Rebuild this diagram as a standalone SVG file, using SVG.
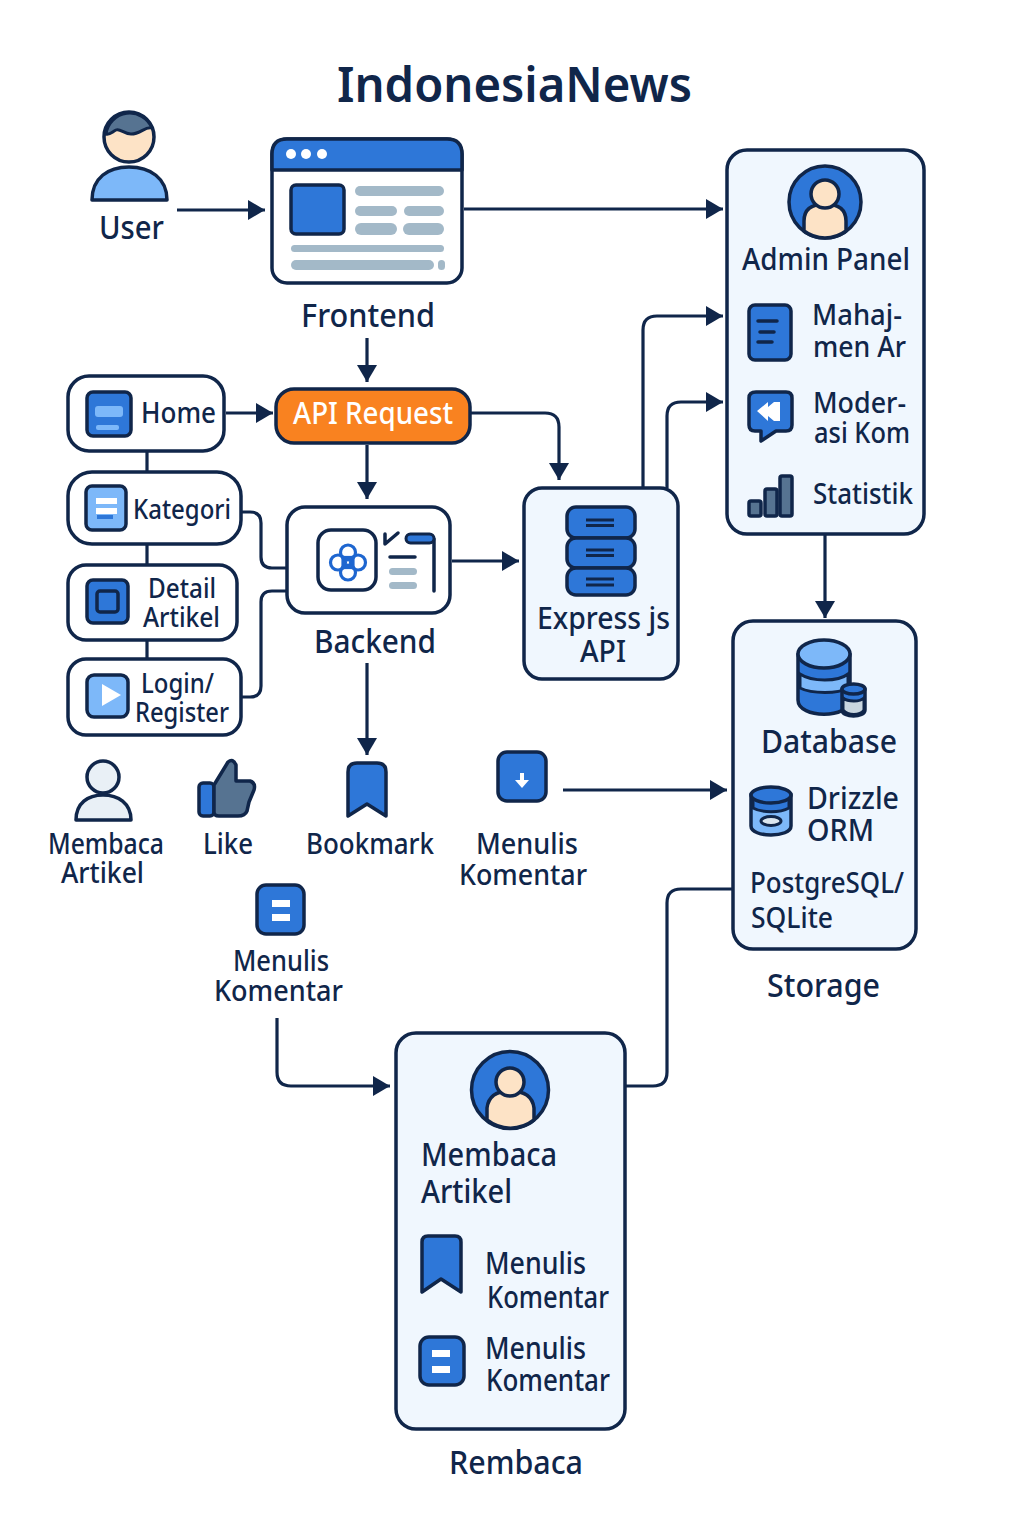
<svg xmlns="http://www.w3.org/2000/svg" width="1024" height="1536" viewBox="0 0 1024 1536">
<defs>
<style>
text{font-family:"Noto Sans","Open Sans","Liberation Sans",sans-serif;fill:#10264a;font-weight:500;font-size:30px}
.s{stroke:#10264a;stroke-width:3.5;stroke-linejoin:round;stroke-linecap:round}
.box{fill:#fff;stroke:#10264a;stroke-width:3.5}
.panel{fill:#f0f7fe;stroke:#10264a;stroke-width:3.5}
.b{fill:#2e77d8}.l{fill:#7db8f9}.k{fill:#fde3c6}.g{fill:#a3b9c8}.sl{fill:#567391}
.c{fill:none;stroke:#10264a;stroke-width:3.2}
.w{fill:#fff}
</style>
<marker id="ah" markerUnits="userSpaceOnUse" markerWidth="18" markerHeight="22" refX="17" refY="11" orient="auto"><path d="M0 1L17 11L0 21Z" fill="#10264a"/></marker>
</defs>
<rect width="1024" height="1536" fill="#fff"/>
<g id="title"><text x="337" y="102" style="font-size:48px;font-weight:600" textLength="355" lengthAdjust="spacingAndGlyphs">IndonesiaNews</text></g>

<g id="connectors">
<path class="c" marker-end="url(#ah)" d="M177 210H265"/>
<path class="c" marker-end="url(#ah)" d="M464 209H723"/>
<path class="c" marker-end="url(#ah)" d="M367 338V382"/>
<path class="c" marker-end="url(#ah)" d="M226 413H273"/>
<path class="c" marker-end="url(#ah)" d="M367 445V499"/>
<path class="c" marker-end="url(#ah)" d="M471 413H545Q559 413 559 427V480"/>
<path class="c" marker-end="url(#ah)" d="M452 561H519"/>
<path class="c" marker-end="url(#ah)" d="M367 663V755"/>
<path class="c" marker-end="url(#ah)" d="M643 488V330Q643 316 657 316H723"/>
<path class="c" marker-end="url(#ah)" d="M667 488V416Q667 402 681 402H723"/>
<path class="c" marker-end="url(#ah)" d="M825 535V618"/>
<path class="c" marker-end="url(#ah)" d="M563 790H727"/>
<path class="c" d="M733 889H681Q667 889 667 903V1072Q667 1086 653 1086H626"/>
<path class="c" marker-end="url(#ah)" d="M277 1018V1072Q277 1086 291 1086H390"/>
<path class="c" d="M147 451V472M147 545V565M147 640V659"/>
<path class="c" d="M242 512H250Q261 512 261 523V557Q261 568 272 568H287"/>
<path class="c" d="M242 697H250Q261 697 261 686V602Q261 591 272 591H287"/>
</g>

<g id="user">
<path class="l s" d="M92 200C92 178 108 167 129 167C150 167 167 178 167 200Z"/>
<circle class="k s" cx="129" cy="137" r="25"/>
<path class="sl" d="M106 134A24 24 0 0 1 152 128C145 126 141 134 131 134C124 134 120 128 116 130C112 132 110 135 106 134Z" stroke="#10264a" stroke-width="3" stroke-linejoin="round"/>
<text x="99" y="239" style="font-size:32px" textLength="65" lengthAdjust="spacingAndGlyphs">User</text>
</g>

<g id="frontend">
<rect class="box" x="272" y="139" width="190" height="144" rx="15"/>
<path class="b s" d="M272 170V154Q272 139 287 139H447Q462 139 462 154V170Z"/>
<circle class="w" cx="291" cy="154" r="5"/><circle class="w" cx="306" cy="154" r="5"/><circle class="w" cx="322" cy="154" r="5"/>
<rect class="b s" x="291" y="185" width="53" height="49" rx="5"/>
<rect class="g" x="355" y="186" width="89" height="10" rx="5"/>
<rect class="g" x="355" y="206" width="42" height="10" rx="5"/>
<rect class="g" x="404" y="206" width="40" height="10" rx="5"/>
<rect class="g" x="355" y="223" width="42" height="12" rx="6"/>
<rect class="g" x="403" y="223" width="41" height="12" rx="6"/>
<rect class="g" x="291" y="245" width="153" height="7" rx="3.500"/>
<rect class="g" x="291" y="260" width="143" height="10" rx="5"/>
<rect class="g" x="438" y="260" width="7" height="10" rx="3.500"/>
<text x="301" y="327" style="font-size:32px" textLength="134" lengthAdjust="spacingAndGlyphs">Frontend</text>
</g>

<g id="home">
<rect class="box" x="68" y="376" width="156" height="75" rx="21"/>
<rect class="b s" x="87" y="392" width="44" height="44" rx="6"/>
<rect class="l" x="95" y="406" width="28" height="11" rx="3"/>
<rect class="l" x="96" y="425" width="23" height="5" rx="2"/>
<text x="141" y="423" style="font-size:28px" textLength="75" lengthAdjust="spacingAndGlyphs">Home</text>
</g>

<g id="api-request">
<rect x="276" y="389" width="194" height="54" rx="18" fill="#f98220" stroke="#10264a" stroke-width="3.500"/>
<text x="293" y="424" style="font-size:30px;fill:#fff" textLength="160" lengthAdjust="spacingAndGlyphs">API Request</text>
</g>

<g id="kategori">
<rect class="box" x="68" y="472" width="173" height="72" rx="24"/>
<rect class="l s" x="86" y="486" width="40" height="44" rx="6"/>
<rect class="w" x="96" y="498" width="21" height="6"/><rect class="w" x="96" y="508" width="21" height="6"/>
<rect class="b" x="97" y="515" width="16" height="4"/>
<text x="133" y="519" style="font-size:27px" textLength="98" lengthAdjust="spacingAndGlyphs">Kategori</text>
</g>

<g id="detail-artikel">
<rect class="box" x="68" y="565" width="169" height="75" rx="18"/>
<rect class="b s" x="87" y="580" width="41" height="43" rx="6"/>
<rect class="b" x="97" y="591" width="21" height="21" rx="3" stroke="#10264a" stroke-width="3.500"/>
<text x="148" y="598" style="font-size:27px" textLength="68" lengthAdjust="spacingAndGlyphs">Detail</text>
<text x="143" y="627" style="font-size:27px" textLength="77" lengthAdjust="spacingAndGlyphs">Artikel</text>
</g>

<g id="login-register">
<rect class="box" x="68" y="659" width="173" height="76" rx="18"/>
<rect class="l s" x="87" y="675" width="41" height="42" rx="7"/>
<path class="w" d="M102 684L121 695L102 706Z"/>
<text x="141" y="693" style="font-size:27px" textLength="73" lengthAdjust="spacingAndGlyphs">Login/</text>
<text x="135" y="722" style="font-size:27px" textLength="94" lengthAdjust="spacingAndGlyphs">Register</text>
</g>

<g id="backend">
<rect class="box" x="287" y="507" width="163" height="106" rx="18"/>
<rect class="box" x="318" y="530" width="58" height="60" rx="13"/>
<g fill="none" stroke="#1e66d0" stroke-width="3.200">
<circle cx="338" cy="562.500" r="7.500"/><circle cx="358" cy="562.500" r="7.500"/>
<circle cx="348" cy="552.500" r="7.500"/><circle cx="348" cy="572.500" r="7.500"/>
<rect x="343" y="557.500" width="10" height="10"/>
</g>
<path class="s" fill="none" d="M385 534V544L398 533M390 557H415M434 539V591"/>
<rect class="b" x="406" y="534" width="28" height="9" rx="4.500" stroke="#10264a" stroke-width="3"/>
<rect class="g" x="389" y="568" width="28" height="7" rx="3.500"/>
<rect class="g" x="389" y="582" width="28" height="7" rx="3.500"/>
<text x="314" y="653" style="font-size:32px" textLength="122" lengthAdjust="spacingAndGlyphs">Backend</text>
</g>

<g id="express-api">
<rect class="panel" x="524" y="488" width="154" height="191" rx="18"/>
<rect class="b s" x="567" y="507" width="68" height="31" rx="9"/>
<rect class="b s" x="567" y="538" width="68" height="30" rx="9"/>
<rect class="b s" x="567" y="568" width="68" height="27" rx="9"/>
<path d="M586 520H614M586 525.500H614M586 550H614M586 555.500H614M586 579H614M586 585H614" fill="none" stroke="#10264a" stroke-width="3"/>
<text x="537" y="629" style="font-size:31px" textLength="133" lengthAdjust="spacingAndGlyphs">Express js</text>
<text x="580" y="662" style="font-size:31px" textLength="46" lengthAdjust="spacingAndGlyphs">API</text>
</g>

<g id="admin-panel">
<rect class="panel" x="727" y="150" width="197" height="384" rx="20"/>
<circle class="b s" cx="825" cy="202" r="36"/>
<path class="k s" d="M804 231V221Q804 204 825 204Q846 204 846 221V231A35 35 0 0 1 804 231Z"/>
<circle class="k s" cx="825" cy="194" r="14"/>
<text x="742" y="270" style="font-size:31px" textLength="168" lengthAdjust="spacingAndGlyphs">Admin Panel</text>
<rect class="b s" x="749" y="305" width="42" height="55" rx="6"/>
<path class="s" fill="none" d="M758 321H777M760 332H774M758 342H772"/>
<text x="812" y="325" style="font-size:29px" textLength="90" lengthAdjust="spacingAndGlyphs">Mahaj-</text>
<text x="813" y="357" style="font-size:29px" textLength="93" lengthAdjust="spacingAndGlyphs">men Ar</text>
<path class="b s" d="M756 392H786Q792 392 792 398V425Q792 431 786 431H776L761 441V431H755Q749 431 749 425V398Q749 392 756 392Z"/>
<path class="w" d="M757 411L768 402V407L774 402H780V421H774L768 416V421Z"/>
<text x="813" y="413" style="font-size:29px" textLength="93" lengthAdjust="spacingAndGlyphs">Moder-</text>
<text x="814" y="443" style="font-size:29px" textLength="96" lengthAdjust="spacingAndGlyphs">asi Kom</text>
<rect class="sl s" x="749" y="501" width="12" height="15" rx="2"/>
<rect class="sl s" x="765" y="489" width="12" height="27" rx="2"/>
<rect class="sl s" x="780" y="476" width="12" height="40" rx="2"/>
<text x="813" y="504" style="font-size:29px" textLength="100" lengthAdjust="spacingAndGlyphs">Statistik</text>
</g>

<g id="database">
<rect class="panel" x="733" y="621" width="183" height="328" rx="20"/>
<path class="b s" d="M798 654V700C798 719 850 719 850 700V654Z"/>
<path class="l" d="M800 674C812 682 838 682 848 674V688C838 694 812 694 800 688Z" stroke="#10264a" stroke-width="3"/>
<ellipse class="l s" cx="824" cy="654" rx="26" ry="14"/>
<path class="b s" d="M842 689V710C842 718 865 718 865 710V689Z"/>
<path d="M843 698C848 702 860 702 864 698V710C860 716 848 716 843 710Z" fill="#c9d6df" stroke="#10264a" stroke-width="3"/>
<ellipse class="b s" cx="853.500" cy="689" rx="11.500" ry="5"/>
<text x="761" y="753" style="font-size:32px" textLength="136" lengthAdjust="spacingAndGlyphs">Database</text>
<path class="l s" d="M751 794V826C751 838 791 838 791 826V794Z"/>
<path class="b" d="M753 796H789V808C780 813 762 813 753 808Z" stroke="#10264a" stroke-width="3"/>
<ellipse class="b s" cx="771" cy="795" rx="20" ry="8"/>
<ellipse cx="771" cy="821" rx="10" ry="4.500" fill="#dbe6ef" stroke="#10264a" stroke-width="3"/>
<text x="807" y="809" style="font-size:31px" textLength="92" lengthAdjust="spacingAndGlyphs">Drizzle</text>
<text x="807" y="841" style="font-size:31px" textLength="67" lengthAdjust="spacingAndGlyphs">ORM</text>
<text x="750" y="893" style="font-size:29px" textLength="154" lengthAdjust="spacingAndGlyphs">PostgreSQL/</text>
<text x="751" y="928" style="font-size:29px" textLength="82" lengthAdjust="spacingAndGlyphs">SQLite</text>
</g>
<g id="storage-label"><text x="767" y="997" style="font-size:32px" textLength="113" lengthAdjust="spacingAndGlyphs">Storage</text></g>

<g id="membaca-artikel">
<path d="M76 820C76 803 88 795 103 795C118 795 131 803 131 820Z" fill="#e9f0f6" class="s"/>
<circle cx="103" cy="777" r="16" fill="#e9f0f6" class="s"/>
<text x="48" y="854" style="font-size:29px" textLength="116" lengthAdjust="spacingAndGlyphs">Membaca</text>
<text x="61" y="883" style="font-size:29px" textLength="83" lengthAdjust="spacingAndGlyphs">Artikel</text>
</g>
<g id="like">
<rect class="b s" x="199" y="783" width="15" height="33" rx="4"/>
<path class="sl s" d="M214 785L228 762Q233 758 236 765V781H250Q256 783 254 790L249 802L247 811Q245 816 238 816H219Q214 816 214 812Z"/>
<text x="203" y="854" style="font-size:29px" textLength="50" lengthAdjust="spacingAndGlyphs">Like</text>
</g>
<g id="bookmark">
<path class="b s" d="M348 772Q348 763 357 763H377Q386 763 386 772V816L367 804L348 816Z"/>
<text x="306" y="854" style="font-size:29px" textLength="128" lengthAdjust="spacingAndGlyphs">Bookmark</text>
</g>
<g id="menulis-komentar-1">
<rect class="b s" x="498" y="752" width="48" height="49" rx="9"/>
<path class="w" d="M520 773H524V780H529L522 788L515 780H520Z"/>
<text x="476" y="854" style="font-size:29px" textLength="102" lengthAdjust="spacingAndGlyphs">Menulis</text>
<text x="459" y="885" style="font-size:29px" textLength="128" lengthAdjust="spacingAndGlyphs">Komentar</text>
</g>
<g id="menulis-komentar-2">
<rect class="b s" x="257" y="885" width="47" height="49" rx="9"/>
<rect class="w" x="272" y="900" width="18" height="7"/><rect class="w" x="272" y="914" width="18" height="7"/>
<text x="233" y="971" style="font-size:29px" textLength="96" lengthAdjust="spacingAndGlyphs">Menulis</text>
<text x="214" y="1001" style="font-size:29px" textLength="129" lengthAdjust="spacingAndGlyphs">Komentar</text>
</g>

<g id="rembaca">
<rect class="panel" x="396" y="1033" width="229" height="396" rx="20"/>
<circle class="b s" cx="510" cy="1090" r="38.500"/>
<path class="k s" d="M487 1120V1108Q489 1091 510 1091Q532 1091 534 1108V1120A38 38 0 0 1 487 1120Z"/>
<circle class="k s" cx="510" cy="1082" r="14"/>
<text x="421" y="1166" style="font-size:33px" textLength="136" lengthAdjust="spacingAndGlyphs">Membaca</text>
<text x="421" y="1203" style="font-size:33px" textLength="91" lengthAdjust="spacingAndGlyphs">Artikel</text>
<path class="b s" d="M422 1242Q422 1236 428 1236H455Q461 1236 461 1242V1292L441 1279L422 1292Z"/>
<text x="485" y="1274" style="font-size:30px" textLength="101" lengthAdjust="spacingAndGlyphs">Menulis</text>
<text x="487" y="1308" style="font-size:30px" textLength="122" lengthAdjust="spacingAndGlyphs">Komentar</text>
<rect class="b s" x="420" y="1337" width="44" height="48" rx="9"/>
<rect class="w" x="432" y="1350" width="18" height="7"/><rect class="w" x="432" y="1366" width="18" height="7"/>
<text x="485" y="1359" style="font-size:30px" textLength="101" lengthAdjust="spacingAndGlyphs">Menulis</text>
<text x="486" y="1391" style="font-size:30px" textLength="124" lengthAdjust="spacingAndGlyphs">Komentar</text>
</g>
<g id="rembaca-label"><text x="449" y="1474" style="font-size:32px" textLength="134" lengthAdjust="spacingAndGlyphs">Rembaca</text></g>
</svg>
